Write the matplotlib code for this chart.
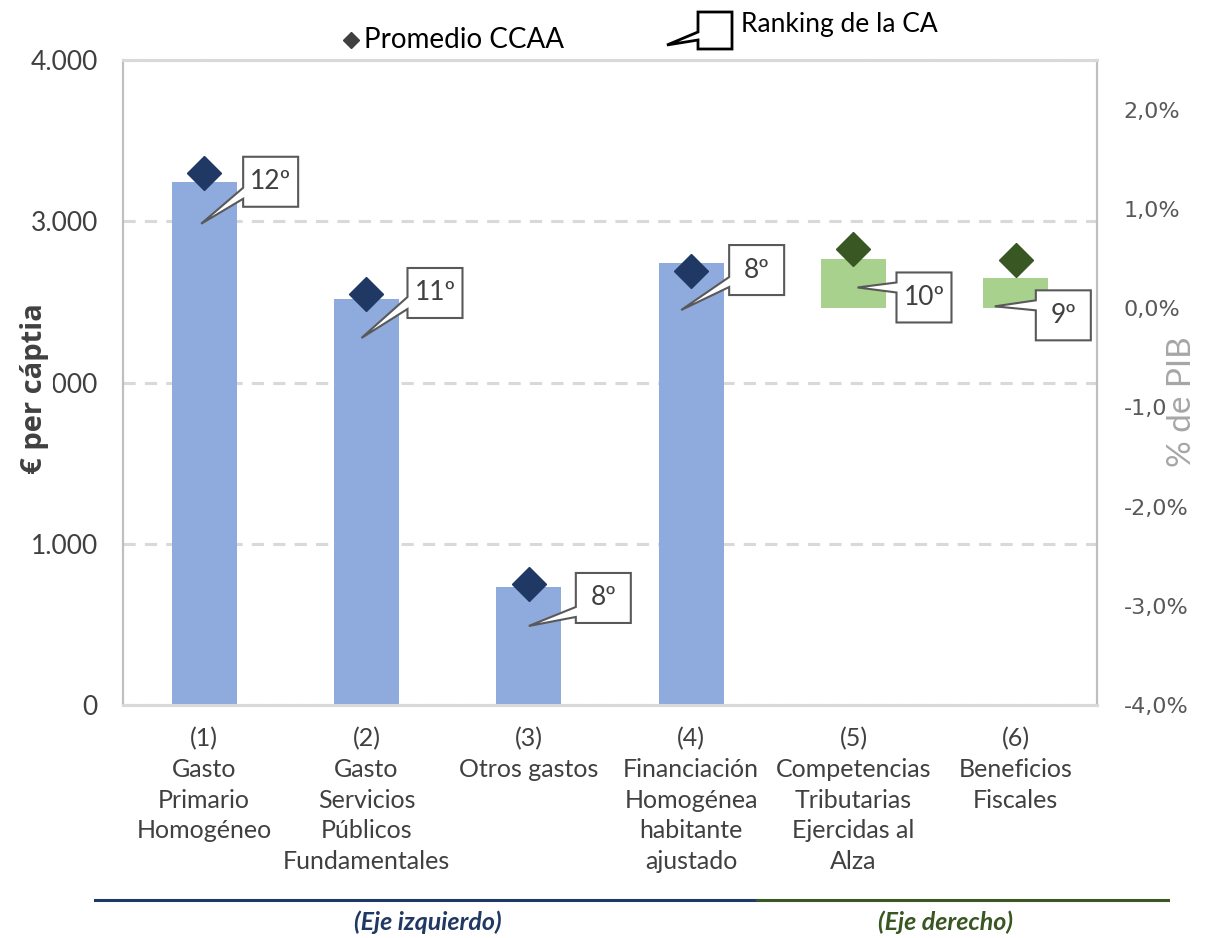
import matplotlib.pyplot as plt
from matplotlib.patches import Polygon
from matplotlib.lines import Line2D
from matplotlib.ticker import FuncFormatter
from matplotlib.transforms import Affine2D, ScaledTranslation

plt.rcParams["font.family"] = ["Lato", "DejaVu Sans"]

categories = [
    "(1)\nGasto\nPrimario\nHomogéneo",
    "(2)\nGasto\nServicios\nPúblicos\nFundamentales",
    "(3)\nOtros gastos",
    "(4)\nFinanciación\nHomogénea\nhabitante\najustado",
    "(5)\nCompetencias\nTributarias\nEjercidas al\nAlza",
    "(6)\nBeneficios\nFiscales",
]
# left axis (euros per capita), categories 1-4
euros_ca = [3245, 2518, 732, 2741]
euros_avg = [3300, 2549, 750, 2692]
# right axis (% PIB), categories 5-6
pib_ca = [0.49, 0.30]
pib_avg = [0.60, 0.48]
ranking = ["12º", "11º", "8º", "8º", "10º", "9º"]

BLUE = "#8FAADC"
NAVY = "#203864"
LGREEN = "#A9D18E"
DGREEN = "#385723"
TXT = "#404040"

fig = plt.figure(figsize=(12.25, 9.38), dpi=100)
ax = fig.add_axes([0.1004, 0.2484, 0.7951, 0.6876])
ax2 = ax.twinx()

x_left = list(range(4))
x_right = [4, 5]

ax.bar(x_left, euros_ca, width=0.4, color=BLUE, zorder=2)
ax.plot(x_left, euros_avg, "D", ms=17, color=NAVY, zorder=3)
ax2.bar(x_right, pib_ca, width=0.4, color=LGREEN, zorder=2)
ax2.plot(x_right, pib_avg, "D", ms=17, color=DGREEN, zorder=3)

ax.set_xlim(-0.5, 5.5)
ax.set_ylim(0, 4000)
ax.set_yticks([0, 1000, 2000, 3000, 4000])
ax2.set_ylim(-4, 2.5)
ax2.set_yticks([-4, -3, -2, -1, 0, 1, 2])

ax.yaxis.set_major_formatter(FuncFormatter(lambda v, p: f"{v:,.0f}".replace(",", ".")))
ax2.yaxis.set_major_formatter(FuncFormatter(lambda v, p: f"{v:.1f}%".replace(".", ",")))

ax.set_xticks(range(6))
ax.set_xticklabels(categories, fontsize=18, color=TXT, linespacing=1.4)
ax.tick_params(axis="x", length=0, pad=16)
ax.tick_params(axis="y", length=0, pad=18, labelsize=19, labelcolor=TXT)
ax2.tick_params(axis="y", length=0, pad=19, labelsize=16, labelcolor="#595959")
for lab in ax2.get_yticklabels():
    lab.set_family("DejaVu Sans")

ax.grid(axis="y", color="#D9D9D9", lw=2.2, ls=(0, (4, 3)), zorder=0)
ax.set_axisbelow(True)

for a in (ax, ax2):
    a.spines["left"].set_color("#BFBFBF")
    a.spines["right"].set_color("#BFBFBF")
    a.spines["left"].set_linewidth(1.5)
    a.spines["right"].set_linewidth(1.5)
    a.spines["top"].set_color("#D9D9D9")
    a.spines["bottom"].set_color("#D9D9D9")
    a.spines["top"].set_linewidth(2.2)
    a.spines["bottom"].set_linewidth(2.2)

ax.set_ylabel("€ per cáptia", fontsize=21, fontweight="bold", color=TXT,
              family=["Open Sans", "DejaVu Sans"],
              bbox=dict(facecolor="white", edgecolor="none", pad=3))
ax.yaxis.set_label_coords(-0.076, 0.49)
ax2.set_ylabel("% de PIB", fontsize=24, color="#A6A6A6",
               bbox=dict(facecolor="white", edgecolor="none", pad=1))
ax2.yaxis.set_label_coords(1.072, 0.47)

# callouts with ranking: tip offset from bar top, box position relative to tip (px, y down)
callouts = [
    (-3, 42, 42, -67, -36, -25),
    (-5, 39, 46, -70, -41, -29),
    (0, 39, 47, -53, -19, -9),
    (-10, 47, 48, -65, -33, -23),
    (4, 28, 39, -15, -5, 5),
    (-21, 28, 41, -16, -6, 4),
]
BOX_W, BOX_H = 55, 50
anchors = [(ax, i, v) for i, v in zip(x_left, euros_ca)] + \
          [(ax2, i, v) for i, v in zip(x_right, pib_ca)]

for (axis, xi, yi), (tdx, tdy, left, top, wa, wb), rank in zip(anchors, callouts, ranking):
    trans = (Affine2D().translate(tdx, -tdy).scale(0.01) + fig.dpi_scale_trans
             + ScaledTranslation(xi, yi, axis.transData))
    verts = [(0, 0), (left, -wa), (left, -top), (left + BOX_W, -top),
             (left + BOX_W, -(top + BOX_H)), (left, -(top + BOX_H)), (left, -wb)]
    poly = Polygon(verts, closed=True, facecolor="white", edgecolor="#595959",
                   lw=1.5, transform=trans, zorder=5)
    fig.add_artist(poly)
    fig.text(left + BOX_W / 2, -(top + BOX_H / 2), rank, transform=trans,
             ha="center", va="center", fontsize=19, color=TXT, zorder=6)

# legend at top
px = Affine2D().scale(0.01) + fig.dpi_scale_trans
fig.add_artist(Line2D([351], [938 - 40], marker="D", ms=8, color="#404040",
                      ls="none", transform=px))
fig.text(364, 938 - 40, "Promedio CCAA", transform=px, fontsize=20,
         color="black", va="center", ha="left")
icon = [(667, 938 - 45), (698, 938 - 32), (698, 938 - 12), (732, 938 - 12),
        (732, 938 - 49), (698, 938 - 49), (698, 938 - 40)]
fig.add_artist(Polygon(icon, closed=True, facecolor="white", edgecolor="black",
                       lw=2, transform=px))
fig.text(741, 938 - 24, "Ranking de la CA", transform=px, fontsize=19,
         color="black", va="center", ha="left")

# bottom axis indicators
fig.add_artist(Line2D([95, 757], [938 - 900, 938 - 900], color=NAVY, lw=2.2, transform=px))
fig.add_artist(Line2D([757, 1168], [938 - 900, 938 - 900], color=DGREEN, lw=2.2, transform=px))
fig.text(428, 938 - 922, "(Eje izquierdo)", transform=px, fontsize=18,
         fontweight="bold", fontstyle="italic", color=NAVY, ha="center", va="center")
fig.text(946, 938 - 922, "(Eje derecho)", transform=px, fontsize=18,
         fontweight="bold", fontstyle="italic", color=DGREEN, ha="center", va="center")

fig.savefig("out.png", dpi=100, facecolor="white")
